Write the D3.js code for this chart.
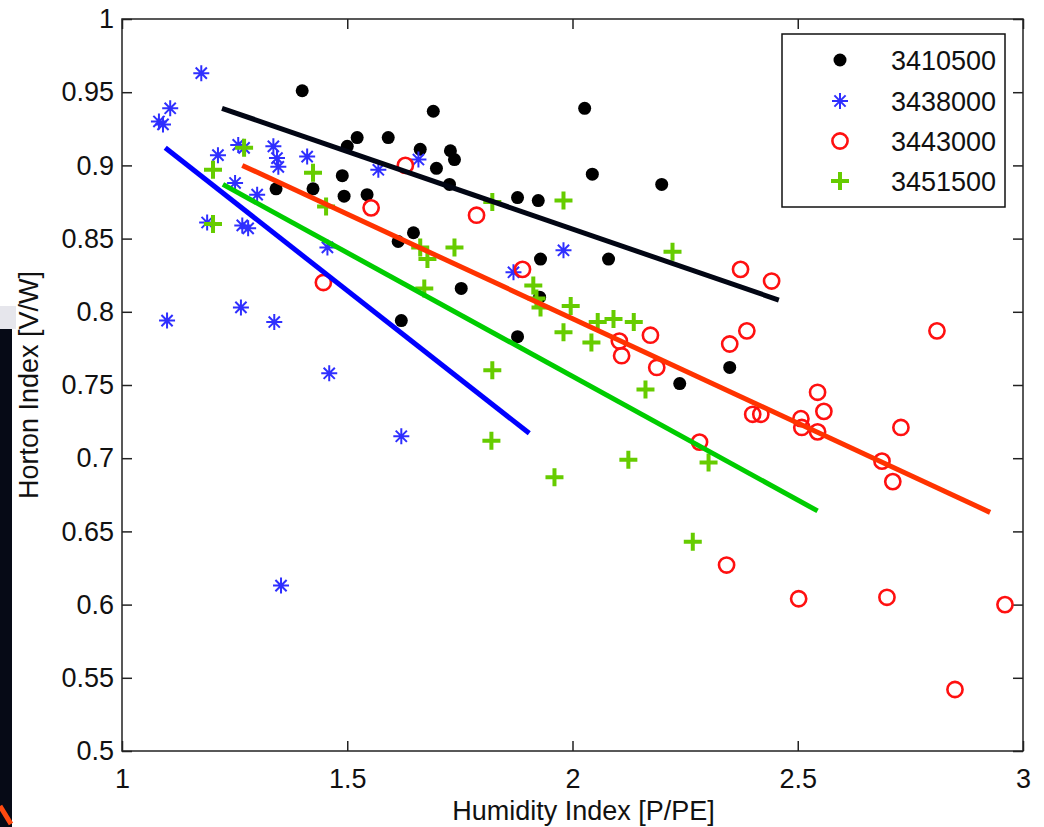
<html lang="en">
<head>
<meta charset="utf-8">
<title>Horton Index vs Humidity Index</title>
<style>
    body { margin: 0; background: white; }
    svg { display: block; background: white; }
    text { font-family: "Liberation Sans", Arial, sans-serif; fill: #111; }
    .frame { fill: none; stroke: #222; stroke-width: 1.5; }
    .tick line { stroke: #222; stroke-width: 1.5; }
</style>
</head>
<body>
<div id="chart"></div>
<script src="https://d3js.org/d3.v7.min.js"></script>
<script>
// station ids (legend order)
var stations = ["3410500", "3438000", "3443000", "3451500"];

// [humidity index, horton index]
var pts3410500 = [
    [1.400, 0.951], [1.342, 0.884], [1.424, 0.884], [1.500, 0.913], [1.522, 0.919],
    [1.591, 0.919], [1.489, 0.893], [1.493, 0.879], [1.544, 0.880], [1.662, 0.911],
    [1.691, 0.937], [1.698, 0.898], [1.729, 0.910], [1.738, 0.904], [1.727, 0.887],
    [1.613, 0.848], [1.647, 0.854], [1.620, 0.794], [1.753, 0.816], [1.878, 0.783],
    [1.878, 0.878], [1.924, 0.876], [1.929, 0.836], [1.927, 0.810], [2.027, 0.939],
    [2.044, 0.894], [2.080, 0.836], [2.198, 0.887], [2.238, 0.751], [2.349, 0.762]
];
var pts3438000 = [
    [1.176, 0.963], [1.107, 0.939], [1.082, 0.930], [1.091, 0.928], [1.213, 0.907],
    [1.258, 0.914], [1.271, 0.912], [1.336, 0.913], [1.344, 0.905], [1.347, 0.899],
    [1.411, 0.906], [1.251, 0.888], [1.300, 0.880], [1.189, 0.861], [1.267, 0.859],
    [1.280, 0.857], [1.456, 0.844], [1.569, 0.897], [1.658, 0.904], [1.100, 0.794],
    [1.264, 0.803], [1.338, 0.793], [1.460, 0.758], [1.620, 0.715], [1.980, 0.842],
    [1.869, 0.827], [1.353, 0.613]
];
var pts3443000 = [
    [1.629, 0.900], [1.553, 0.871], [1.447, 0.820], [1.787, 0.866], [1.889, 0.829],
    [2.104, 0.780], [2.109, 0.770], [2.173, 0.784], [2.187, 0.762], [2.282, 0.711],
    [2.373, 0.829], [2.442, 0.821], [2.387, 0.787], [2.349, 0.778], [2.400, 0.730],
    [2.418, 0.730], [2.507, 0.727], [2.509, 0.721], [2.544, 0.745], [2.558, 0.732],
    [2.544, 0.718], [2.729, 0.721], [2.809, 0.787], [2.687, 0.698], [2.711, 0.684],
    [2.342, 0.627], [2.502, 0.604], [2.698, 0.605], [2.960, 0.600], [2.849, 0.542]
];
var pts3451500 = [
    [1.202, 0.897], [1.271, 0.912], [1.202, 0.860], [1.424, 0.895], [1.453, 0.872],
    [1.662, 0.844], [1.678, 0.836], [1.738, 0.844], [1.671, 0.816], [1.822, 0.875],
    [1.980, 0.876], [2.222, 0.841], [1.913, 0.818], [1.920, 0.809], [1.929, 0.803],
    [1.996, 0.804], [1.980, 0.786], [2.042, 0.779], [2.056, 0.793], [2.091, 0.795],
    [2.136, 0.793], [1.822, 0.760], [2.162, 0.747], [1.820, 0.712], [2.124, 0.699],
    [1.960, 0.687], [2.302, 0.697], [2.267, 0.643]
];

// regression line end points
var fit3410500 = [[1.222, 0.939], [2.458, 0.808]];
var fit3438000 = [[1.096, 0.912], [1.904, 0.717]];
var fit3443000 = [[1.267, 0.900], [2.927, 0.663]];
var fit3451500 = [[1.224, 0.887], [2.544, 0.664]];

var xTicks = [1, 1.5, 2, 2.5, 3];
var yTicks = [0.5, 0.55, 0.6, 0.65, 0.7, 0.75, 0.8, 0.85, 0.9, 0.95, 1];
var xTickLabels = ["1", "1.5", "2", "2.5", "3"];
var yTickLabels = ["0.5", "0.55", "0.6", "0.65", "0.7", "0.75", "0.8", "0.85", "0.9", "0.95", "1"];

var W = 1044, H = 827;
var plot = {left: 122, top: 19, right: 1023, bottom: 751};

var svg = d3.select("#chart").append("svg")
    .attr("width", W)
    .attr("height", H);

// bits of the screenshot behind the figure (left edge)
svg.append("rect").attr("x", 0).attr("y", 306).attr("width", 16).attr("height", 23).style("fill", "#e6e6ec");
svg.append("rect").attr("x", 0).attr("y", 329).attr("width", 12).attr("height", H - 329).style("fill", "#060a16");
svg.append("line").attr("x1", 0).attr("y1", 806).attr("x2", 11).attr("y2", 824)
    .style("stroke", "#ff4a10").style("stroke-width", 5);

var x = d3.scaleLinear().domain([1, 3]).range([plot.left, plot.right]);
var y = d3.scaleLinear().domain([0.5, 1]).range([plot.bottom, plot.top]);

var fontSize = 27;

// axes, ticks pointing inwards like matlab
var gx = svg.append("g")
    .attr("transform", "translate(0," + plot.bottom + ")")
    .call(d3.axisBottom(x).tickValues(xTicks).tickSize(-10).tickPadding(18)
        .tickFormat(function(d, i) { return xTickLabels[i]; }));
var gy = svg.append("g")
    .attr("transform", "translate(" + plot.left + ",0)")
    .call(d3.axisLeft(y).tickValues(yTicks).tickSize(-10).tickPadding(8)
        .tickFormat(function(d, i) { return yTickLabels[i]; }));
var gx2 = svg.append("g")
    .attr("transform", "translate(0," + plot.top + ")")
    .call(d3.axisTop(x).tickValues(xTicks).tickSize(-10).tickFormat(""));
var gy2 = svg.append("g")
    .attr("transform", "translate(" + plot.right + ",0)")
    .call(d3.axisRight(y).tickValues(yTicks).tickSize(-10).tickFormat(""));

[gx, gy, gx2, gy2].forEach(function(g) {
    g.select(".domain").remove();
    g.attr("font-size", null).attr("font-family", null);
    g.selectAll("text").style("font-size", fontSize + "px").style("fill", "#111");
});

svg.append("rect")
    .attr("class", "frame")
    .attr("x", plot.left)
    .attr("y", plot.top)
    .attr("width", plot.right - plot.left)
    .attr("height", plot.bottom - plot.top);

// axis titles
svg.append("text")
    .attr("x", (plot.left + plot.right) / 2 + 11)
    .attr("y", 820)
    .attr("text-anchor", "middle")
    .style("font-size", fontSize + "px")
    .text("Humidity Index [P/PE]");
svg.append("text")
    .attr("transform", "translate(38," + (plot.top + plot.bottom) / 2 + ") rotate(-90)")
    .attr("text-anchor", "middle")
    .style("font-size", fontSize + "px")
    .text("Horton Index [V/W]");

// marker shapes
var starPath = "M-8,0H8M0,-8V8M-5.6,-5.6L5.6,5.6M-5.6,5.6L5.6,-5.6";
var plusPath = "M-9,0H9M0,-9V9";

function drawMarker(g, kind) {
    if (kind == 0) {
        g.append("circle").attr("r", 6.5).style("fill", "#000");
    } else if (kind == 1) {
        g.append("path").attr("d", starPath)
            .style("fill", "none").style("stroke", "#2f2fff").style("stroke-width", 2);
    } else if (kind == 2) {
        g.append("circle").attr("r", 7.6)
            .style("fill", "none").style("stroke", "#ff1010").style("stroke-width", 2.6);
    } else {
        g.append("path").attr("d", plusPath)
            .style("fill", "none").style("stroke", "#66cc00").style("stroke-width", 4);
    }
}

var allPts = [pts3410500, pts3438000, pts3443000, pts3451500];
var allFits = [fit3410500, fit3438000, fit3443000, fit3451500];
var lineColors = ["#020614", "#0000ff", "#ff3300", "#00cc00"];

allPts.forEach(function(pts, k) {
    svg.append("g").attr("class", "series-" + stations[k])
        .selectAll("g")
        .data(pts)
        .enter().append("g")
        .attr("transform", function(d) { return "translate(" + x(d[0]) + "," + y(d[1]) + ")"; })
        .each(function() { drawMarker(d3.select(this), k); });
});

var line = d3.line()
    .x(function(d) { return x(d[0]); })
    .y(function(d) { return y(d[1]); });

allFits.forEach(function(fit, k) {
    svg.append("path")
        .attr("d", line(fit))
        .style("fill", "none")
        .style("stroke", lineColors[k])
        .style("stroke-width", 5);
});

// legend
var legend = svg.append("g");
legend.append("rect")
    .attr("x", 782).attr("y", 34)
    .attr("width", 223).attr("height", 173)
    .style("fill", "white").style("stroke", "#111").style("stroke-width", 1.5);

var legendRows = [60, 101, 141, 181];
stations.forEach(function(s, k) {
    var row = legend.append("g").attr("transform", "translate(840," + legendRows[k] + ")");
    drawMarker(row, k);
    legend.append("text")
        .attr("x", 891)
        .attr("y", legendRows[k] + 9.5)
        .style("font-size", fontSize + "px")
        .text(s);
});
</script>
</body>
</html>
